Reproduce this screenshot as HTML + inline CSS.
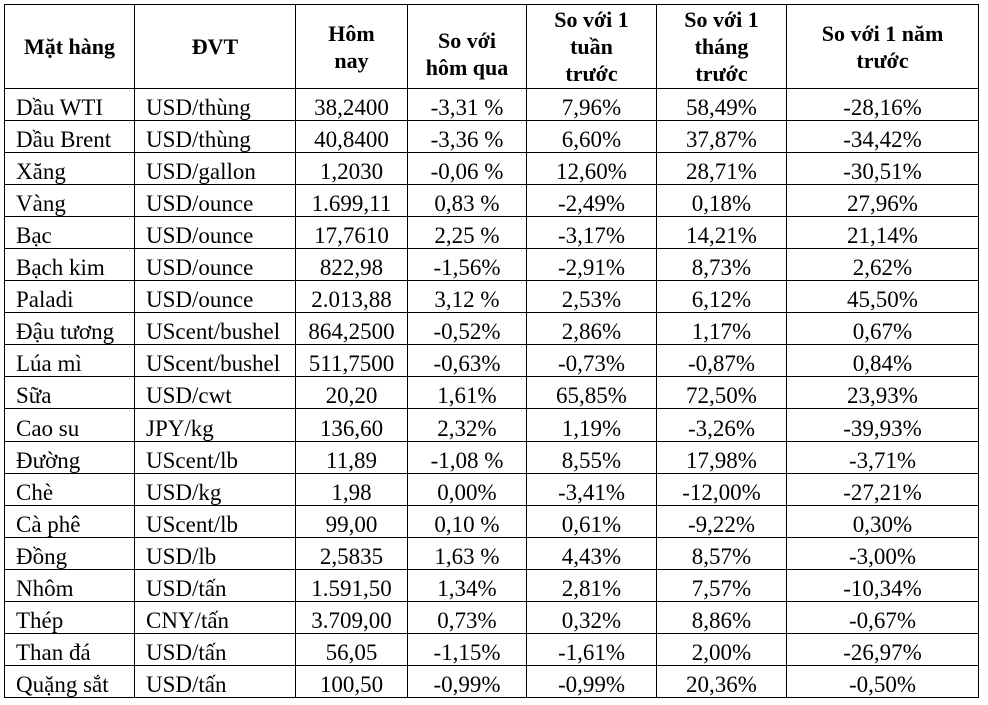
<!DOCTYPE html>
<html><head><meta charset="utf-8"><style>
body{margin:0;background:#fff;width:988px;height:705px;overflow:hidden;font-family:"Liberation Serif",serif;color:#000}
table{position:absolute;left:4px;top:4px;border-collapse:collapse;table-layout:fixed}
td,th{border:1.5px solid #000;padding:0;font-size:23px;line-height:24px}
th{font-weight:bold;font-size:22px;line-height:27px;text-align:center;vertical-align:middle}
tbody tr{height:32.05px}
td{vertical-align:bottom;text-align:center}
td.l{text-align:left;padding-left:11px}
</style></head><body>
<table>
<colgroup><col style="width:130px"><col style="width:161px"><col style="width:112px"><col style="width:119px"><col style="width:130px"><col style="width:130px"><col style="width:192px"></colgroup>
<tr style="height:84px">
<th>Mặt hàng</th>
<th>ĐVT</th>
<th>Hôm<br>nay</th>
<th style="padding-top:14px">So với<br>hôm qua</th>
<th>So với 1<br>tuần<br>trước</th>
<th>So với 1<br>tháng<br>trước</th>
<th>So với 1 năm<br>trước</th>
</tr>
<tbody id="tb"></tbody>
</table>
<script>
const rows=[
["Dầu WTI","USD/thùng","38,2400","-3,31 %","7,96%","58,49%","-28,16%"],
["Dầu Brent","USD/thùng","40,8400","-3,36 %","6,60%","37,87%","-34,42%"],
["Xăng","USD/gallon","1,2030","-0,06 %","12,60%","28,71%","-30,51%"],
["Vàng","USD/ounce","1.699,11","0,83 %","-2,49%","0,18%","27,96%"],
["Bạc","USD/ounce","17,7610","2,25 %","-3,17%","14,21%","21,14%"],
["Bạch kim","USD/ounce","822,98","-1,56%","-2,91%","8,73%","2,62%"],
["Paladi","USD/ounce","2.013,88","3,12 %","2,53%","6,12%","45,50%"],
["Đậu tương","UScent/bushel","864,2500","-0,52%","2,86%","1,17%","0,67%"],
["Lúa mì","UScent/bushel","511,7500","-0,63%","-0,73%","-0,87%","0,84%"],
["Sữa","USD/cwt","20,20","1,61%","65,85%","72,50%","23,93%"],
["Cao su","JPY/kg","136,60","2,32%","1,19%","-3,26%","-39,93%"],
["Đường","UScent/lb","11,89","-1,08 %","8,55%","17,98%","-3,71%"],
["Chè","USD/kg","1,98","0,00%","-3,41%","-12,00%","-27,21%"],
["Cà phê","UScent/lb","99,00","0,10 %","0,61%","-9,22%","0,30%"],
["Đồng","USD/lb","2,5835","1,63 %","4,43%","8,57%","-3,00%"],
["Nhôm","USD/tấn","1.591,50","1,34%","2,81%","7,57%","-10,34%"],
["Thép","CNY/tấn","3.709,00","0,73%","0,32%","8,86%","-0,67%"],
["Than đá","USD/tấn","56,05","-1,15%","-1,61%","2,00%","-26,97%"],
["Quặng sắt","USD/tấn","100,50","-0,99%","-0,99%","20,36%","-0,50%"]];
const cols=["commodity","unit","today","vs-yesterday","vs-week","vs-month","vs-year"];
const tb=document.getElementById('tb');
rows.forEach((r,i)=>{
 const tr=document.createElement('tr');
 
 
 r.forEach((v,j)=>{
  const td=document.createElement('td');
  
  
  if(j<2)td.className='l';
  td.textContent=v;tr.appendChild(td);
 });
 tb.appendChild(tr);
});
</script>
</body></html>
